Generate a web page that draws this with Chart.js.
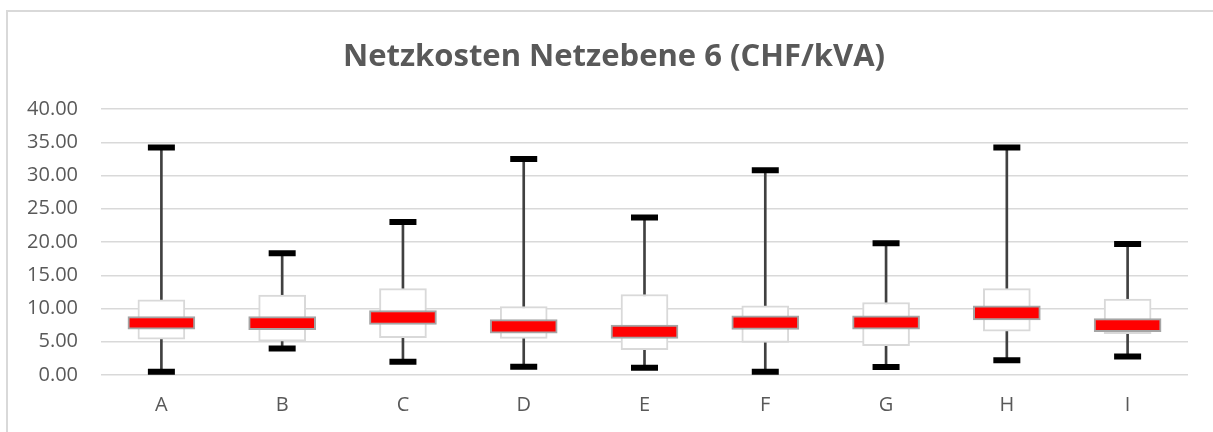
<!DOCTYPE html>
<html>
<head>
<meta charset="utf-8">
<script src="https://cdn.jsdelivr.net/npm/chart.js@4"></script>
<style>
  html, body { margin: 0; padding: 0; background: #fff; overflow: hidden; }
  #frame { position: absolute; left: 6px; top: 10px; width: 1300px; height: 500px;
           border-left: 2px solid #d9d9d9; border-top: 2px solid #d9d9d9; }
  #myChart { position: absolute; left: 0; top: 0; }
</style>
</head>
<body>
<div id="frame"></div>
<canvas id="myChart" width="1213" height="432"></canvas>
<script>
// values
const categories = ['A', 'B', 'C', 'D', 'E', 'F', 'G', 'H', 'I'];
const maxVals   = [34.2, 18.3, 23.0, 32.5, 23.7, 30.8, 19.8, 34.2, 19.7];
const minVals   = [0.5, 4.0, 2.0, 1.25, 1.1, 0.5, 1.2, 2.2, 2.8];
const boxTop    = [11.3, 12.0, 13.0, 10.3, 12.1, 10.4, 10.9, 13.0, 11.4];
const boxBottom = [5.4, 5.1, 5.6, 5.5, 3.8, 4.9, 4.4, 6.6, 6.2];
const redTop    = [8.8, 8.8, 9.7, 8.35, 7.5, 8.9, 8.9, 10.4, 8.5];
const redBottom = [6.9, 6.8, 7.6, 6.3, 5.5, 6.85, 6.9, 8.3, 6.5];
const yTicks = [0, 5, 10, 15, 20, 25, 30, 35, 40];
const chartTitle = 'Netzkosten Netzebene 6 (CHF/kVA)';

const textColor = '#595959';
const font = 'Open Sans';

function pairs(lo, hi) {
    return lo.map((v, i) => [v, hi[i]]);
}

// the title in the reference sits centred on the whole frame, not on the plot box
const titlePlugin = {
    id: 'frameTitle',
    afterDraw(chart) {
        const c = chart.ctx;
        c.save();
        c.font = 'bold 31px "' + font + '"';
        c.fillStyle = textColor;
        c.textAlign = 'center';
        c.textBaseline = 'middle';
        c.fillText(chartTitle, (chart.width + 15) / 2, 57);
        c.restore();
    }
};

var ctx = document.getElementById('myChart').getContext('2d');
var myChart = new Chart(ctx, {
    type: 'bar',
    data: {
        labels: categories,
        datasets: [
            {
                type: 'line',
                label: 'max',
                data: maxVals,
                showLine: false,
                pointStyle: 'line',
                pointRadius: 13.5,
                pointBorderWidth: 6,
                pointBorderColor: '#000000',
                order: 0
            },
            {
                type: 'line',
                label: 'min',
                data: minVals,
                showLine: false,
                pointStyle: 'line',
                pointRadius: 13.5,
                pointBorderWidth: 6,
                pointBorderColor: '#000000',
                order: 0
            },
            {
                label: 'median band',
                data: pairs(redBottom, redTop),
                backgroundColor: '#ff0000',
                borderColor: '#a5a5a5',
                borderWidth: 2,
                borderSkipped: false,
                barThickness: 67,
                grouped: false,
                order: 1
            },
            {
                label: 'box',
                data: pairs(boxBottom, boxTop),
                backgroundColor: '#ffffff',
                borderColor: '#d9d9d9',
                borderWidth: 2,
                borderSkipped: false,
                barThickness: 47,
                grouped: false,
                order: 2
            },
            {
                label: 'whisker',
                data: pairs(minVals, maxVals),
                backgroundColor: '#404040',
                borderWidth: 0,
                barThickness: 2,
                grouped: false,
                order: 3
            }
        ]
    },
    options: {
        responsive: false,
        animation: false,
        layout: { padding: { left: 0, right: 25, top: 109, bottom: 0 } },
        plugins: {
            legend: { display: false },
            tooltip: { enabled: false },
            title: { display: false }
        },
        scales: {
            x: {
                grid: { display: false, drawTicks: false },
                border: { display: false },
                ticks: {
                    color: textColor,
                    font: { family: font, size: 20 },
                    padding: 18
                },
                afterFit: (scale) => { scale.height = 57; }
            },
            y: {
                min: 0,
                max: 40,
                afterBuildTicks: (scale) => {
                    scale.ticks = yTicks.map(v => ({ value: v }));
                },
                grid: { color: '#d9d9d9', lineWidth: 1.5, drawTicks: false },
                border: { display: false },
                ticks: {
                    color: textColor,
                    font: { family: font, size: 20 },
                    padding: 23,
                    callback: (v) => Number(v).toFixed(2)
                },
                afterFit: (scale) => { scale.width = 101; }
            }
        }
    },
    plugins: [titlePlugin]
});
</script>
</body>
</html>
